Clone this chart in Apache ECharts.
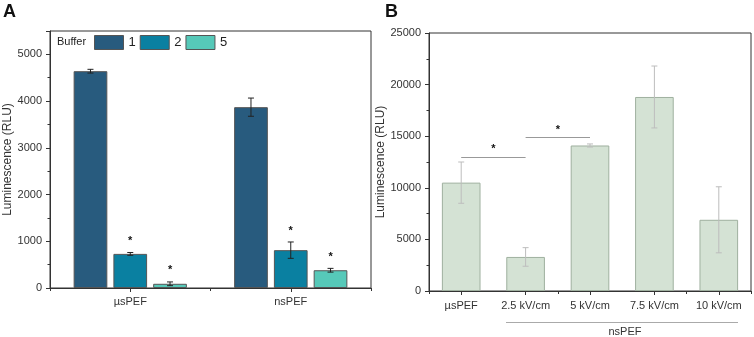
<!DOCTYPE html>
<html>
<head>
<meta charset="utf-8">
<script src="https://cdn.jsdelivr.net/npm/echarts@6/dist/echarts.min.js"></script>
<style>
  html, body { margin: 0; padding: 0; background: #fff; }
  #chart { width: 754px; height: 337px; }
</style>
</head>
<body>
<div id="chart"></div>
<script>
// panel A
var catsA = ['µsPEF', 'nsPEF']
var buffers = ['1', '2', '5']
var meanA = [
  [4640, 3870],
  [730, 810],
  [90, 380]
]
var sdA = [
  [40, 195],
  [30, 175],
  [40, 40]
]
var starA = [false, true, true]
var colorsA = ['#285b7e', '#0a80a1', '#56c9b9']
var ticksA = [0, 1000, 2000, 3000, 4000, 5000]

// panel B
var catsB = ['µsPEF', '2.5 kV/cm', '5 kV/cm', '7.5 kV/cm', '10 kV/cm']
var meanB = [10500, 3300, 14100, 18800, 6900]
var sdB = [2000, 900, 150, 3000, 3200]
// significance brackets: [from, to, height]
var sigB = [
  [0, 1, 13000],
  [1, 2, 14900]
]

var chart = echarts.init(document.getElementById('chart'))
var font = 'Liberation Sans, Arial, sans-serif'
var axisCol = '#333'
var barW = 0.21
var barGap = 0.18

function errBar(color, capW, withStar, offsetIdx) {
  return function(params, api) {
    var band = api.size([1, 0])[0]
    var off = offsetIdx == null ? 0 : (offsetIdx - 1) * band * barW * (1 + barGap)
    var hi = api.coord([api.value(0), api.value(1) + api.value(2)])
    var lo = api.coord([api.value(0), api.value(1) - api.value(2)])
    var x = hi[0] + off
    var st = { stroke: color, lineWidth: 1 }
    var kids = [
      { type: 'line', shape: { x1: x, y1: hi[1], x2: x, y2: lo[1] }, style: st },
      { type: 'line', shape: { x1: x - capW / 2, y1: hi[1], x2: x + capW / 2, y2: hi[1] }, style: st },
      { type: 'line', shape: { x1: x - capW / 2, y1: lo[1], x2: x + capW / 2, y2: lo[1] }, style: st }
    ]
    if (withStar) {
      kids.push({
        type: 'text',
        style: { text: '*', x: x, y: hi[1] - 6, align: 'center', verticalAlign: 'bottom',
          font: 'bold 11px ' + font, fill: '#111' }
      })
    }
    return { type: 'group', children: kids }
  }
}

var series = []
buffers.forEach(function(b, i) {
  series.push({
    name: b,
    type: 'bar',
    xAxisIndex: 0,
    yAxisIndex: 0,
    barWidth: (barW * 100) + '%',
    barGap: (barGap * 100) + '%',
    itemStyle: { color: colorsA[i], borderColor: '#555', borderWidth: 1 },
    data: meanA[i]
  })
})
buffers.forEach(function(b, i) {
  series.push({
    type: 'custom',
    xAxisIndex: 0,
    yAxisIndex: 0,
    silent: true,
    z: 5,
    renderItem: errBar('#222', 6, starA[i], i),
    encode: { x: 0, y: 1 },
    data: meanA[i].map(function(v, j) { return [j, v, sdA[i][j]] })
  })
})
series.push({
  type: 'bar',
  xAxisIndex: 2,
  yAxisIndex: 1,
  barWidth: '60%',
  itemStyle: { color: '#d4e2d4', borderColor: '#9fb09f', borderWidth: 1 },
  data: meanB,
  markLine: {
    silent: true,
    symbol: 'none',
    lineStyle: { color: '#999', type: 'solid', width: 1 },
    label: { show: true, position: 'middle', formatter: '*', color: '#111',
      fontWeight: 'bold', fontSize: 11, distance: 2 },
    data: sigB.map(function(s) {
      return [{ coord: [s[0], s[2]] }, { coord: [s[1], s[2]] }]
    })
  }
})
series.push({
  type: 'custom',
  xAxisIndex: 2,
  yAxisIndex: 1,
  silent: true,
  z: 5,
  renderItem: errBar('#bdbdbd', 6, false, null),
  encode: { x: 0, y: 1 },
  data: meanB.map(function(v, j) { return [j, v, sdB[j]] })
})

function yAxis(grid, max, interval, gap) {
  return {
    type: 'value',
    gridIndex: grid,
    min: 0,
    max: max,
    interval: interval,
    name: 'Luminescence (RLU)',
    nameLocation: 'middle',
    nameGap: gap,
    nameTextStyle: { fontFamily: font, fontSize: 12, color: '#333' },
    axisLine: { show: true, lineStyle: { color: axisCol } },
    axisTick: { show: true, length: 4, lineStyle: { color: axisCol } },
    minorTick: { show: true, splitNumber: 2, length: 2.5, lineStyle: { color: axisCol } },
    axisLabel: {
      fontFamily: font, fontSize: 11, color: '#333', margin: 8,
      formatter: function(v) { return v % interval === 0 ? String(v) : '' }
    },
    splitLine: { show: false }
  }
}

function xMain(grid, cats, margin) {
  return {
    type: 'category',
    gridIndex: grid,
    data: cats,
    axisLine: { show: true, lineStyle: { color: axisCol } },
    axisTick: { show: true, alignWithLabel: true, length: 4, lineStyle: { color: axisCol } },
    axisLabel: { fontFamily: font, fontSize: 11, color: '#333', margin: margin },
    splitLine: { show: false }
  }
}

function xHelper(grid, cats) {
  return {
    type: 'category',
    gridIndex: grid,
    data: cats,
    position: 'bottom',
    axisLine: { show: false },
    axisTick: { show: true, length: 3, lineStyle: { color: axisCol } },
    axisLabel: { show: false },
    splitLine: { show: false }
  }
}

var option = {
  animation: false,
  backgroundColor: '#fff',
  grid: [
    { left: 50, right: 383, top: 31, bottom: 49, show: true, borderColor: axisCol, borderWidth: 1 },
    { left: 429, right: 3, top: 33, bottom: 46, show: true, borderColor: axisCol, borderWidth: 1 }
  ],
  legend: {
    data: buffers,
    left: 94,
    top: 35,
    padding: 0,
    itemWidth: 29,
    itemHeight: 14,
    itemGap: 4,
    icon: 'rect',
    textStyle: { fontFamily: font, fontSize: 13, color: '#222' },
    itemStyle: { borderColor: '#555', borderWidth: 1 }
  },
  xAxis: [
    xMain(0, catsA, 8),
    xHelper(0, catsA),
    xMain(1, catsB, 9),
    xHelper(1, catsB)
  ],
  yAxis: [
    yAxis(0, 5500, 1000, 34),
    yAxis(1, 25000, 5000, 38)
  ],
  graphic: [
    { type: 'text', left: 3, top: 3, style: { text: 'A', font: 'bold 18px ' + font, fill: '#111' } },
    { type: 'text', left: 385, top: 3, style: { text: 'B', font: 'bold 18px ' + font, fill: '#111' } },
    { type: 'text', left: 57, top: 36, style: { text: 'Buffer', font: '11px ' + font, fill: '#222' } },
    { type: 'line', shape: { x1: 506, y1: 322.5, x2: 738, y2: 322.5 }, style: { stroke: '#aaa', lineWidth: 1 } },
    { type: 'text', x: 625, y: 332, style: { text: 'nsPEF', font: '11px ' + font, fill: '#333',
      align: 'center', verticalAlign: 'middle' } }
  ],
  series: series
}

chart.setOption(option)
</script>
</body>
</html>
